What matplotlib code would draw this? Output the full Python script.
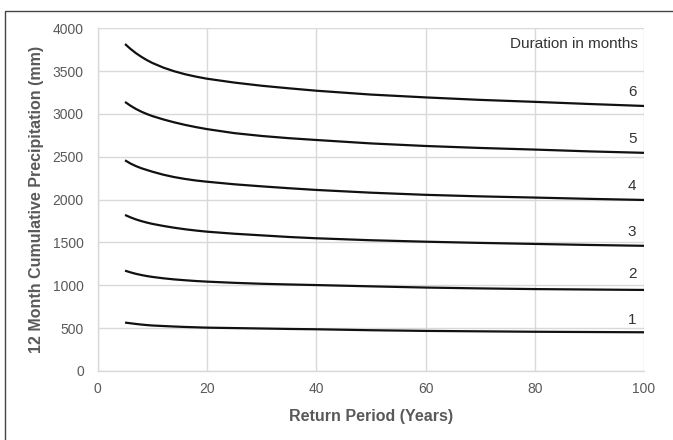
import matplotlib
matplotlib.use("Agg")
import matplotlib.pyplot as plt
from matplotlib.patches import Rectangle

plt.rcParams["font.family"] = ["Liberation Sans", "DejaVu Sans"]

# Return periods (years) and cumulative precipitation (mm) per duration
return_period = [5, 6, 7, 8, 9, 10, 12, 14, 16, 18, 20, 25, 30, 35, 40,
                 50, 60, 70, 80, 90, 100]
durations = [1, 2, 3, 4, 5, 6]
precip_1 = [564, 556, 548, 541, 535, 530, 524, 518, 513, 509, 505, 500, 495,
            490, 486, 475, 467, 462, 457, 454, 451]
precip_2 = [1170, 1150, 1133, 1119, 1107, 1097, 1081, 1068, 1058, 1049, 1042,
            1028, 1017, 1009, 1002, 987, 973, 963, 955, 950, 945]
precip_3 = [1820, 1792, 1768, 1748, 1731, 1716, 1692, 1671, 1653, 1638, 1625,
            1601, 1582, 1563, 1548, 1525, 1508, 1494, 1482, 1470, 1460]
precip_4 = [2458, 2420, 2390, 2365, 2345, 2325, 2290, 2262, 2240, 2222, 2208,
            2178, 2154, 2132, 2112, 2080, 2055, 2037, 2023, 2008, 1995]
precip_5 = [3139, 3095, 3057, 3025, 2998, 2974, 2935, 2901, 2871, 2845, 2822,
            2775, 2742, 2716, 2695, 2655, 2625, 2602, 2583, 2562, 2545]
precip_6 = [3815, 3758, 3708, 3665, 3627, 3594, 3540, 3497, 3462, 3434, 3410,
            3365, 3328, 3298, 3270, 3225, 3192, 3163, 3140, 3115, 3092]
series = [precip_1, precip_2, precip_3, precip_4, precip_5, precip_6]

# Where the duration numbers sit (just above the right end of each curve)
label_x = 98.6
label_y = [595, 1130, 1620, 2160, 2707, 3255]

grid_col = "#d9d9d9"
text_col = "#595959"

fig = plt.figure(figsize=(6.73, 4.40), dpi=100)
ax = fig.add_axes([0.1452, 0.157, 0.8118, 0.779])

for vals in series:
    ax.plot(return_period, vals, color="#111111", linewidth=1.6,
            solid_capstyle="butt", solid_joinstyle="round")

for d, y in zip(durations, label_y):
    ax.text(label_x, y, str(d), ha="right", va="center",
            fontsize=11, color="#333333")
ax.text(98.9, 3815, "Duration in months", ha="right", va="center",
        fontsize=11, color="#333333")

ax.set_xlim(0, 100)
ax.set_ylim(0, 4000)
ax.set_xticks(range(0, 101, 20))
ax.set_yticks(range(0, 4001, 500))
ax.grid(True, color=grid_col, linewidth=1.0)
ax.set_axisbelow(True)
for side in ("top", "right"):
    ax.spines[side].set_visible(False)
for side in ("left", "bottom"):
    ax.spines[side].set_color(grid_col)
    ax.spines[side].set_linewidth(1.0)
ax.tick_params(axis="both", length=0, labelsize=10, labelcolor=text_col)
ax.tick_params(axis="y", pad=10)
ax.tick_params(axis="x", pad=8)

ax.set_xlabel("Return Period (Years)", fontsize=11.5, fontweight="bold",
              color=text_col, labelpad=9)
ax.set_ylabel("12 Month Cumulative Precipitation (mm)", fontsize=11.5,
              fontweight="bold", color=text_col, labelpad=6)

# thin frame around the whole chart, open to the right and bottom
fig.add_artist(Rectangle((5 / 673, -0.1), 1.2, 1.1 - 11 / 440,
                         transform=fig.transFigure, fill=False,
                         edgecolor="#444444", linewidth=1.0))

fig.savefig("out.png", dpi=100)
